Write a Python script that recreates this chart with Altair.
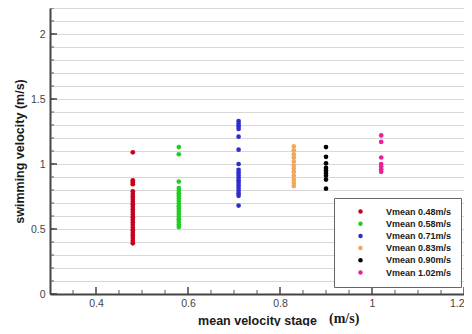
import altair as alt
import pandas as pd

# ---- data ----
series_names = ["Vmean 0.48m/s", "Vmean 0.58m/s", "Vmean 0.71m/s",
                "Vmean 0.83m/s", "Vmean 0.90m/s", "Vmean 1.02m/s"]
series_x = [0.48, 0.58, 0.71, 0.83, 0.90, 1.02]
series_colors = ["#c8001e", "#22cc22", "#2e2ed0", "#f2a85a", "#000000", "#e8229a"]

red_y = [1.09, 0.875, 0.86, 0.845, 0.79, 0.77, 0.75, 0.73, 0.71, 0.69, 0.67, 0.65,
         0.63, 0.61, 0.59, 0.57, 0.55, 0.53, 0.51, 0.49, 0.47, 0.45, 0.43, 0.41, 0.39]
green_y = [1.13, 1.075, 0.865, 0.815, 0.795, 0.775, 0.755, 0.735, 0.715, 0.695,
           0.675, 0.655, 0.635, 0.615, 0.595, 0.575, 0.555, 0.535, 0.515]
blue_y = [1.33, 1.31, 1.29, 1.27, 1.21, 1.11, 1.00, 0.955, 0.935, 0.915, 0.895,
          0.875, 0.855, 0.835, 0.815, 0.795, 0.775, 0.755, 0.68]
orange_y = [1.135, 1.105, 1.075, 1.05, 1.02, 0.99, 0.965, 0.94, 0.91, 0.88, 0.855, 0.83]
black_y = [1.13, 1.055, 1.005, 0.97, 0.95, 0.93, 0.91, 0.88, 0.81]
magenta_y = [1.22, 1.17, 1.05, 1.00, 0.98, 0.96, 0.94]

all_y = [red_y, green_y, blue_y, orange_y, black_y, magenta_y]

x_major_ticks = [0.4, 0.6, 0.8, 1.0, 1.2]
x_minor_ticks = [0.35, 0.45, 0.5, 0.55, 0.65, 0.7, 0.75, 0.85, 0.9, 0.95, 1.05, 1.1, 1.15]
y_grid_values = [0.0, 0.1, 0.2, 0.3, 0.4, 0.5, 0.6, 0.7, 0.8, 0.9, 1.0, 1.1,
                 1.2, 1.3, 1.4, 1.5, 1.6, 1.7, 1.8, 1.9, 2.0, 2.1, 2.2]
y_major_ticks = [0.0, 0.5, 1.0, 1.5, 2.0]
x_unit_text = ["(m/s)"]

rows = []
for name, xv, ys in zip(series_names, series_x, all_y):
    for yv in ys:
        rows.append({"x": xv, "y": yv, "series": name})
df = pd.DataFrame(rows)

W, H = 414, 286
xscale = alt.Scale(domain=[0.3, 1.2], nice=False, zero=False)
yscale = alt.Scale(domain=[0, 2.2], nice=False)
FONT = "Liberation Sans"

points = alt.Chart(df).mark_circle(size=22, opacity=1).encode(
    x=alt.X("x:Q", scale=xscale, axis=alt.Axis(
        values=x_major_ticks, format="~g", ticks=False, tickSize=0, grid=False,
        title="mean velocity stage", titleFont=FONT, titleFontSize=12.5,
        titleFontWeight="bold", titleColor="#1a1a1a", titleY=26,
        titleBaseline="middle", labelFont=FONT, labelFontSize=10.5,
        labelColor="#444444", labelPadding=4, domainColor="#444444",
        domainWidth=2)),
    y=alt.Y("y:Q", scale=yscale, axis=alt.Axis(
        values=y_grid_values, ticks=False, tickSize=0, grid=True,
        gridColor="#d8d8d8", gridWidth=1,
        labelExpr="(round(datum.value*10) % 5 == 0) ? format(datum.value, '~g') : ''",
        title="swimming velocity (m/s)", titleFont=FONT, titleFontSize=12.5,
        titleFontWeight="bold", titleColor="#1a1a1a", titleX=-31, titleY=H / 2,
        titleAlign="center", titleBaseline="middle", titleAngle=-90,
        labelFont=FONT, labelFontSize=10.5, labelColor="#444444",
        labelPadding=5, domainColor="#444444", domainWidth=2)),
    color=alt.Color("series:N", scale=alt.Scale(domain=series_names, range=series_colors),
                    legend=alt.Legend(
                        title=None, orient="none", legendX=284, legendY=190,
                        fillColor="white", strokeColor="#666666", padding=9,
                        symbolType="circle", symbolSize=20, symbolOffset=13,
                        labelOffset=21, labelFont=FONT, labelFontSize=9,
                        labelFontWeight="bold", labelColor="#1a1a1a",
                        rowPadding=2.2, symbolStrokeWidth=0)),
)

xmaj = alt.Chart(pd.DataFrame({"x": x_major_ticks})).mark_rule(
    color="#444444", strokeWidth=1.5).encode(
    x=alt.X("x:Q", scale=xscale, axis=None), y=alt.value(H), y2=alt.value(H - 7))
xmin = alt.Chart(pd.DataFrame({"x": x_minor_ticks})).mark_rule(
    color="#555555", strokeWidth=1).encode(
    x=alt.X("x:Q", scale=xscale, axis=None), y=alt.value(H), y2=alt.value(H - 4))
ymaj = alt.Chart(pd.DataFrame({"y": y_major_ticks})).mark_rule(
    color="#444444", strokeWidth=1.5).encode(
    y=alt.Y("y:Q", scale=yscale, axis=None), x=alt.value(0), x2=alt.value(7))
ymin = alt.Chart(pd.DataFrame({"y": y_grid_values})).mark_rule(
    color="#555555", strokeWidth=1).encode(
    y=alt.Y("y:Q", scale=yscale, axis=None), x=alt.value(0), x2=alt.value(4))

unit = alt.Chart(pd.DataFrame({"t": x_unit_text})).mark_text(
    font="Liberation Serif", fontSize=14, fontWeight="bold", color="#1a1a1a",
    align="left", baseline="middle").encode(
    text="t:N", x=alt.value(279), y=alt.value(H + 25))

chart = alt.layer(points, xmin, xmaj, ymin, ymaj, unit).resolve_axis(
    x="independent", y="independent"
).properties(
    width=W, height=H,
    autosize=alt.AutoSizeParams(type="none"),
    padding={"left": 42, "top": 0, "right": 0, "bottom": 32},
).configure_view(stroke=None)

chart.save("out.html", embed_options={"renderer": "svg", "actions": False})
